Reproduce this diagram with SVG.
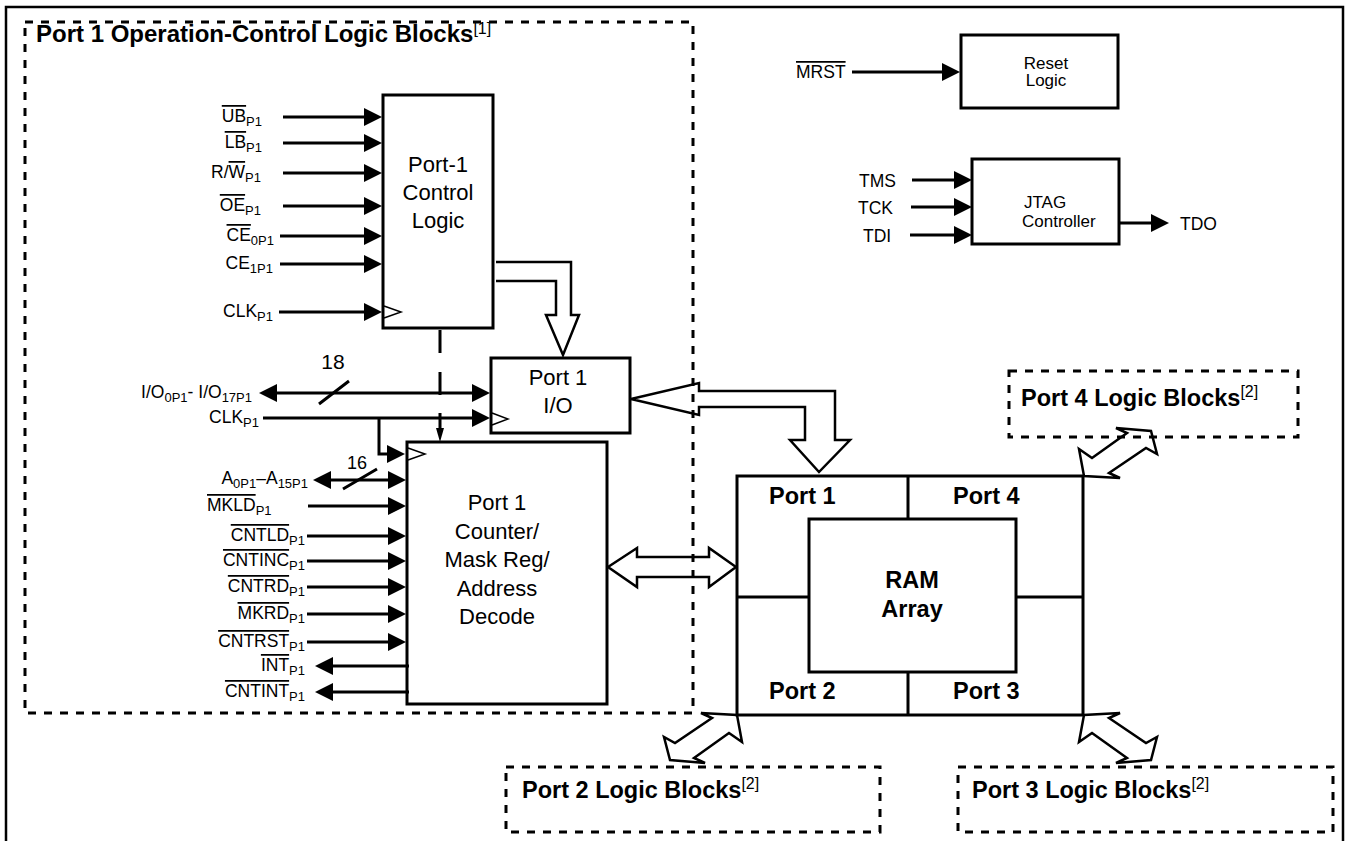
<svg xmlns="http://www.w3.org/2000/svg" width="1348" height="841" viewBox="0 0 1348 841">
<defs>
<style>
.t{font-family:"Liberation Sans",Arial,Helvetica,sans-serif;fill:#000}
.lab{font-size:17.5px}
.sub{font-size:13px}
.big{font-size:22px}
.bold{font-size:23.5px;font-weight:bold}
.title{font-size:24px;font-weight:bold}
.sup{font-size:16px;font-weight:normal}
.sm{font-size:17px}
.ol{text-decoration:overline}
.box{fill:none;stroke:#000;stroke-width:3}
.frame{fill:none;stroke:#000;stroke-width:2.5}
.w{fill:none;stroke:#000;stroke-width:3}
.thin{fill:none;stroke:#000;stroke-width:1.5}
.hollow{fill:none;stroke:#000;stroke-width:2.5;stroke-linejoin:miter}
.dot{fill:none;stroke:#000;stroke-width:3;stroke-dasharray:8 8}
.arr{marker-end:url(#ah)}
.arr2{marker-start:url(#ah);marker-end:url(#ah)}
</style>
<marker id="ah" markerUnits="userSpaceOnUse" markerWidth="18" markerHeight="18" viewBox="0 0 18 18" refX="9" refY="9" orient="auto-start-reverse"><path d="M0,0 L18,9 L0,18 Z" fill="#000"/></marker>
<polygon id="dbl" class="hollow" points="0,0 5,27 -8,18 -43,43 -32,48 -67,45 -73,22 -62,28 -25,3 -36,-2"/>
</defs>
<rect width="1348" height="841" fill="#fff"/>
<path class="frame" d="M6,841 V7 H1343 V841"/>

<g id="port1-logic-blocks">
<rect class="dot" x="25" y="22" width="668" height="691"/>
<text class="t title" x="36" y="42">Port 1 Operation-Control Logic Blocks<tspan class="sup" dy="-8">[1]</tspan></text>
</g>

<g id="port1-control-logic">
<rect class="box" x="383" y="95" width="110" height="233"/>
<polyline class="thin" points="384,306 401,312 384,318"/>
<text class="t big" text-anchor="middle"><tspan x="438" y="172">Port-1</tspan><tspan x="438" y="200">Control</tspan><tspan x="438" y="228">Logic</tspan></text>
</g>

<g id="port1-io">
<rect class="box" x="491" y="358" width="139" height="75"/>
<polyline class="thin" points="492,413 508,419 492,425"/>
<text class="t big" text-anchor="middle"><tspan x="558" y="385">Port 1</tspan><tspan x="558" y="413">I/O</tspan></text>
</g>

<g id="port1-counter">
<rect class="box" x="407" y="442" width="200" height="262"/>
<polyline class="thin" points="408,448 425,454 408,460"/>
<text class="t big" text-anchor="middle"><tspan x="497" y="510">Port 1</tspan><tspan x="497" y="538.5">Counter/</tspan><tspan x="497" y="567">Mask Reg/</tspan><tspan x="497" y="595.5">Address</tspan><tspan x="497" y="624">Decode</tspan></text>
</g>

<g id="ram-array">
<rect class="box" x="737" y="476" width="346" height="239"/>
<rect class="box" x="809" y="519" width="207" height="153"/>
<path class="w" d="M908,476 V519 M908,672 V715 M737,597 H809 M1016,597 H1083"/>
<text class="t bold" x="769" y="504">Port 1</text>
<text class="t bold" x="953" y="504">Port 4</text>
<text class="t bold" x="769" y="699">Port 2</text>
<text class="t bold" x="953" y="699">Port 3</text>
<text class="t bold" text-anchor="middle"><tspan x="912" y="588">RAM</tspan><tspan x="912" y="617">Array</tspan></text>
</g>

<g id="reset-logic">
<rect class="box" x="961" y="35" width="157" height="73"/>
<text class="t sm" text-anchor="middle"><tspan x="1046" y="69">Reset</tspan><tspan x="1046" y="86">Logic</tspan></text>
</g>

<g id="jtag-controller">
<rect class="box" x="972" y="159" width="147" height="85"/>
<text class="t sm"><tspan x="1024" y="208">JTAG</tspan><tspan x="1022" y="227">Controller</tspan></text>
</g>

<g id="port4-logic-blocks">
<rect class="dot" x="1009" y="371" width="289" height="66"/>
<text class="t bold" x="1021" y="406">Port 4 Logic Blocks<tspan class="sup" dy="-9">[2]</tspan></text>
</g>

<g id="port2-logic-blocks">
<rect class="dot" x="506" y="767" width="374" height="65"/>
<text class="t bold" x="522" y="798">Port 2 Logic Blocks<tspan class="sup" dy="-9">[2]</tspan></text>
</g>

<g id="port3-logic-blocks">
<rect class="dot" x="958" y="767" width="375" height="65"/>
<text class="t bold" x="972" y="798">Port 3 Logic Blocks<tspan class="sup" dy="-9">[2]</tspan></text>
</g>

<g id="connectors">
<path class="w arr" d="M283,117 H373"/>
<path class="w arr" d="M283,143 H373"/>
<path class="w arr" d="M283,173 H373"/>
<path class="w arr" d="M283,206 H373"/>
<path class="w arr" d="M280,236 H373"/>
<path class="w arr" d="M280,264 H373"/>
<path class="w arr" d="M279,312 H373"/>
<path class="w arr2" d="M268,393 H481"/>
<path class="w arr" d="M263,418 H481"/>
<path class="w arr" d="M379,418 V454 H396"/>
<path class="w arr2" d="M322,480 H397"/>
<path class="w arr" d="M308,506 H397"/>
<path class="w arr" d="M307,536 H397"/>
<path class="w arr" d="M307,561 H397"/>
<path class="w arr" d="M307,587 H397"/>
<path class="w arr" d="M307,614 H397"/>
<path class="w arr" d="M307,642 H397"/>
<path class="w arr" d="M409,666 H324"/>
<path class="w arr" d="M409,692 H324"/>
<path class="w arr" d="M852,72 H951"/>
<path class="w arr" d="M912,180 H963"/>
<path class="w arr" d="M911,207 H963"/>
<path class="w arr" d="M910,235 H963"/>
<path class="w arr" d="M1119,223 H1160"/>
<path class="w" stroke-width="2.5" d="M319,404 L349,381 M343,489 L377,469"/>
<path class="w" d="M440,330 V353 M440,372 V395 M440,413 V430"/>
<polygon points="436,428 444,428 440,442" fill="#000"/>
<path class="hollow" d="M496,262 H571 V315 H579 L563,355 L546,315 H556 V281 H496"/>
<path class="hollow" d="M631,399 L699,383 V391 H835 V440 H850 L819,472 L790,440 H805 V407 H699 V415 Z"/>
<polygon class="hollow" points="608,567 637,548 637,557 709,557 709,548 736,567 709,587 709,577 637,577 637,587"/>
<use href="#dbl" transform="translate(737,715)"/>
<use href="#dbl" transform="translate(1084,715) scale(-1,1)"/>
<use href="#dbl" transform="translate(1084,476) scale(-1,-1)"/>
</g>

<g id="signal-labels">
<text class="t lab" x="262" y="122" text-anchor="end"><tspan class="ol">UB</tspan><tspan class="sub" dy="4">P1</tspan></text>
<text class="t lab" x="262" y="148" text-anchor="end"><tspan class="ol">LB</tspan><tspan class="sub" dy="4">P1</tspan></text>
<text class="t lab" x="261" y="178" text-anchor="end">R/<tspan class="ol">W</tspan><tspan class="sub" dy="4">P1</tspan></text>
<text class="t lab" x="261" y="211" text-anchor="end"><tspan class="ol">OE</tspan><tspan class="sub" dy="4">P1</tspan></text>
<text class="t lab" x="274" y="241" text-anchor="end"><tspan class="ol">CE</tspan><tspan class="sub" dy="4">0P1</tspan></text>
<text class="t lab" x="273" y="269" text-anchor="end">CE<tspan class="sub" dy="4">1P1</tspan></text>
<text class="t lab" x="273" y="317" text-anchor="end">CLK<tspan class="sub" dy="4">P1</tspan></text>
<text class="t lab" x="252" y="398" text-anchor="end">I/O<tspan class="sub" dy="4">0P1</tspan><tspan dy="-4">- I/O</tspan><tspan class="sub" dy="4">17P1</tspan></text>
<text class="t lab" x="259" y="423" text-anchor="end">CLK<tspan class="sub" dy="4">P1</tspan></text>
<text class="t" font-size="21" x="333" y="369" text-anchor="middle">18</text>
<text class="t lab" x="308" y="484" text-anchor="end">A<tspan class="sub" dy="4">0P1</tspan><tspan dy="-4">–A</tspan><tspan class="sub" dy="4">15P1</tspan></text>
<text class="t" font-size="18" x="357" y="469" text-anchor="middle">16</text>
<text class="t lab" x="207" y="511"><tspan class="ol">MKLD</tspan><tspan class="sub" dy="4">P1</tspan></text>
<text class="t lab" x="305" y="541" text-anchor="end"><tspan class="ol">CNTLD</tspan><tspan class="sub" dy="4">P1</tspan></text>
<text class="t lab" x="305" y="566" text-anchor="end"><tspan class="ol">CNTINC</tspan><tspan class="sub" dy="4">P1</tspan></text>
<text class="t lab" x="305" y="592" text-anchor="end"><tspan class="ol">CNTRD</tspan><tspan class="sub" dy="4">P1</tspan></text>
<text class="t lab" x="305" y="619" text-anchor="end"><tspan class="ol">MKRD</tspan><tspan class="sub" dy="4">P1</tspan></text>
<text class="t lab" x="305" y="647" text-anchor="end"><tspan class="ol">CNTRST</tspan><tspan class="sub" dy="4">P1</tspan></text>
<text class="t lab" x="305" y="671" text-anchor="end"><tspan class="ol">INT</tspan><tspan class="sub" dy="4">P1</tspan></text>
<text class="t lab" x="305" y="697" text-anchor="end"><tspan class="ol">CNTINT</tspan><tspan class="sub" dy="4">P1</tspan></text>
<text class="t lab" x="796" y="78"><tspan class="ol">MRST</tspan></text>
<text class="t lab" x="859" y="187">TMS</text>
<text class="t lab" x="858" y="214">TCK</text>
<text class="t lab" x="863" y="242">TDI</text>
<text class="t lab" x="1180" y="230">TDO</text>
</g>
</svg>
